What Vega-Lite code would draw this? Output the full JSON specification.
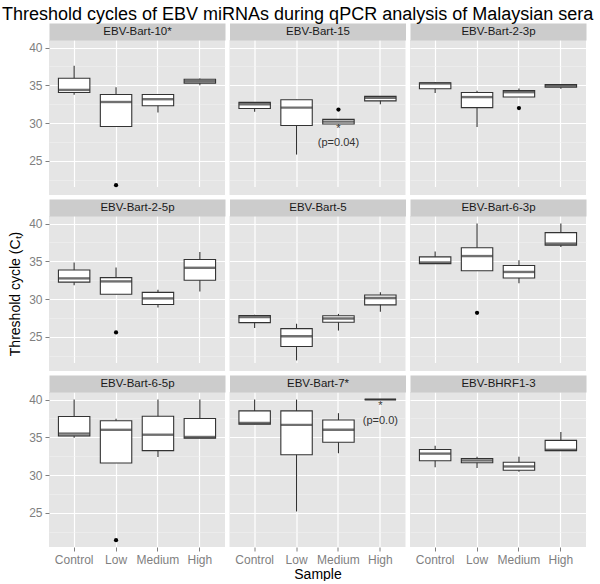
{
  "$schema": "https://vega.github.io/schema/vega-lite/v6.json",
  "background": "#ffffff",
  "padding": {"left": 2, "top": 5, "right": 2, "bottom": 0},
  "autosize": {"type": "pad"},
  "title": {"text": "Threshold cycles of EBV miRNAs during qPCR analysis of Malaysian sera", "fontSize": 18, "fontWeight": "normal", "color": "#000000", "font": "Liberation Sans", "anchor": "start", "frame": "group", "dx": -47, "offset": 2},
  "data": {"values": [
    {"mirna": "EBV-Bart-10*", "sample": "Control", "lower": 33.75, "q1": 34.05, "median": 34.4, "q3": 35.95, "upper": 37.6},
    {"mirna": "EBV-Bart-10*", "sample": "Low", "lower": 29.55, "q1": 29.55, "median": 32.8, "q3": 33.8, "upper": 34.76},
    {"mirna": "EBV-Bart-10*", "sample": "Medium", "lower": 31.4, "q1": 32.3, "median": 33.17, "q3": 33.8, "upper": 33.8},
    {"mirna": "EBV-Bart-10*", "sample": "High", "lower": 35.03, "q1": 35.3, "median": 35.55, "q3": 35.8, "upper": 35.9},
    {"mirna": "EBV-Bart-10*", "sample": "Low", "outlier": 21.8},
    {"mirna": "EBV-Bart-15", "sample": "Control", "lower": 31.5, "q1": 31.95, "median": 32.5, "q3": 32.75, "upper": 32.75},
    {"mirna": "EBV-Bart-15", "sample": "Low", "lower": 25.85, "q1": 29.7, "median": 32.05, "q3": 33.1, "upper": 33.1},
    {"mirna": "EBV-Bart-15", "sample": "Medium", "lower": 29.85, "q1": 29.9, "median": 30.2, "q3": 30.5, "upper": 30.5},
    {"mirna": "EBV-Bart-15", "sample": "High", "lower": 32.5, "q1": 32.95, "median": 33.35, "q3": 33.55, "upper": 33.55},
    {"mirna": "EBV-Bart-15", "sample": "Medium", "outlier": 31.8},
    {"mirna": "EBV-Bart-15", "sample": "Medium", "note": "*", "noteY": 29.2},
    {"mirna": "EBV-Bart-15", "sample": "Medium", "note": "(p=0.04)", "noteY": 27.35},
    {"mirna": "EBV-Bart-2-3p", "sample": "Control", "lower": 34.0, "q1": 34.55, "median": 35.25, "q3": 35.35, "upper": 35.45},
    {"mirna": "EBV-Bart-2-3p", "sample": "Low", "lower": 29.5, "q1": 32.05, "median": 33.45, "q3": 34.05, "upper": 34.3},
    {"mirna": "EBV-Bart-2-3p", "sample": "Medium", "lower": 33.45, "q1": 33.47, "median": 34.1, "q3": 34.3, "upper": 34.6},
    {"mirna": "EBV-Bart-2-3p", "sample": "High", "lower": 34.55, "q1": 34.75, "median": 34.95, "q3": 35.1, "upper": 35.1},
    {"mirna": "EBV-Bart-2-3p", "sample": "Medium", "outlier": 32.0},
    {"mirna": "EBV-Bart-2-5p", "sample": "Control", "lower": 31.85, "q1": 32.25, "median": 32.75, "q3": 33.85, "upper": 34.85},
    {"mirna": "EBV-Bart-2-5p", "sample": "Low", "lower": 30.65, "q1": 30.65, "median": 32.35, "q3": 32.85, "upper": 34.2},
    {"mirna": "EBV-Bart-2-5p", "sample": "Medium", "lower": 28.9, "q1": 29.3, "median": 30.1, "q3": 30.9, "upper": 31.25},
    {"mirna": "EBV-Bart-2-5p", "sample": "High", "lower": 31.0, "q1": 32.5, "median": 34.15, "q3": 35.25, "upper": 36.25},
    {"mirna": "EBV-Bart-2-5p", "sample": "Low", "outlier": 25.6},
    {"mirna": "EBV-Bart-5", "sample": "Control", "lower": 26.2, "q1": 26.9, "median": 27.65, "q3": 27.85, "upper": 27.95},
    {"mirna": "EBV-Bart-5", "sample": "Low", "lower": 21.9, "q1": 23.75, "median": 25.1, "q3": 26.1, "upper": 26.75},
    {"mirna": "EBV-Bart-5", "sample": "Medium", "lower": 25.85, "q1": 26.95, "median": 27.45, "q3": 27.8, "upper": 28.05},
    {"mirna": "EBV-Bart-5", "sample": "High", "lower": 28.35, "q1": 29.25, "median": 30.15, "q3": 30.55, "upper": 30.9},
    {"mirna": "EBV-Bart-6-3p", "sample": "Control", "lower": 34.7, "q1": 34.7, "median": 34.85, "q3": 35.6, "upper": 36.3},
    {"mirna": "EBV-Bart-6-3p", "sample": "Low", "lower": 33.75, "q1": 33.75, "median": 35.7, "q3": 36.8, "upper": 40.0},
    {"mirna": "EBV-Bart-6-3p", "sample": "Medium", "lower": 32.1, "q1": 32.8, "median": 33.6, "q3": 34.45, "upper": 35.15},
    {"mirna": "EBV-Bart-6-3p", "sample": "High", "lower": 36.9, "q1": 37.15, "median": 37.35, "q3": 38.8, "upper": 40.0},
    {"mirna": "EBV-Bart-6-3p", "sample": "Low", "outlier": 28.2},
    {"mirna": "EBV-Bart-6-5p", "sample": "Control", "lower": 34.95, "q1": 35.2, "median": 35.5, "q3": 37.75, "upper": 40.0},
    {"mirna": "EBV-Bart-6-5p", "sample": "Low", "lower": 31.6, "q1": 31.6, "median": 36.0, "q3": 37.2, "upper": 37.45},
    {"mirna": "EBV-Bart-6-5p", "sample": "Medium", "lower": 32.4, "q1": 33.25, "median": 35.35, "q3": 37.8, "upper": 40.0},
    {"mirna": "EBV-Bart-6-5p", "sample": "High", "lower": 34.9, "q1": 34.9, "median": 35.05, "q3": 37.5, "upper": 40.0},
    {"mirna": "EBV-Bart-6-5p", "sample": "Low", "outlier": 21.4},
    {"mirna": "EBV-Bart-7*", "sample": "Control", "lower": 36.75, "q1": 36.75, "median": 36.9, "q3": 38.5, "upper": 40.0},
    {"mirna": "EBV-Bart-7*", "sample": "Low", "lower": 25.2, "q1": 32.7, "median": 36.65, "q3": 38.5, "upper": 40.0},
    {"mirna": "EBV-Bart-7*", "sample": "Medium", "lower": 32.9, "q1": 34.35, "median": 36.0, "q3": 37.3, "upper": 38.2},
    {"mirna": "EBV-Bart-7*", "sample": "High", "lower": 40.0, "q1": 40.0, "median": 40.0, "q3": 40.0, "upper": 40.0},
    {"mirna": "EBV-Bart-7*", "sample": "High", "note": "*", "noteY": 39.1},
    {"mirna": "EBV-Bart-7*", "sample": "High", "note": "(p=0.0)", "noteY": 37.2},
    {"mirna": "EBV-BHRF1-3", "sample": "Control", "lower": 31.05, "q1": 31.9, "median": 32.85, "q3": 33.4, "upper": 33.9},
    {"mirna": "EBV-BHRF1-3", "sample": "Low", "lower": 30.95, "q1": 31.65, "median": 31.95, "q3": 32.2, "upper": 32.45},
    {"mirna": "EBV-BHRF1-3", "sample": "Medium", "lower": 30.45, "q1": 30.65, "median": 31.15, "q3": 31.7, "upper": 32.45},
    {"mirna": "EBV-BHRF1-3", "sample": "High", "lower": 33.25, "q1": 33.25, "median": 33.35, "q3": 34.6, "upper": 35.7}
  ]},
  "columns": 3,
  "spacing": {"row": 21, "column": 4.5},
  "bounds": "flush",
  "concat": [
    {"width": 176, "height": 155, "transform": [{"filter": {"field": "mirna", "equal": "EBV-Bart-10*"}}],
     "layer": [
      {"mark": {"type": "rule", "color": "#333333", "strokeWidth": 1.1},
       "encoding": {"x": {"field": "sample", "type": "nominal", "scale": {"type": "band", "domain": ["Control", "Low", "Medium", "High"], "paddingInner": 0, "paddingOuter": 0.1}, "axis": {"orient": "top", "grid": true, "title": "EBV-Bart-10*"}},
        "y": {"field": "lower", "type": "quantitative", "scale": {"domain": [20.5, 41], "nice": false, "zero": false}, "axis": {"values": [22.5, 25, 27.5, 30, 32.5, 35, 37.5, 40], "labelExpr": "datum.value % 5 === 0 ? datum.label : ''", "gridWidth": {"condition": {"test": "datum.value % 5 !== 0", "value": 0.5}, "value": 1.2}, "gridColor": {"condition": {"test": "datum.value % 5 !== 0", "value": "#f2f2f2"}, "value": "#ffffff"}, "tickOpacity": {"condition": {"test": "datum.value % 5 !== 0", "value": 0}, "value": 1}, "title": null}},
        "y2": {"field": "upper"}}},
      {"mark": {"type": "bar", "fill": "#ffffff", "stroke": "#333333", "strokeWidth": 1.1, "width": {"band": 0.75}},
       "encoding": {"x": {"field": "sample", "type": "nominal", "axis": null}, "y": {"field": "q1", "type": "quantitative", "axis": null}, "y2": {"field": "q3"}}},
      {"mark": {"type": "tick", "color": "#333333", "thickness": 2.4, "size": 31.4},
       "encoding": {"x": {"field": "sample", "type": "nominal", "axis": null}, "y": {"field": "median", "type": "quantitative", "axis": null}}},
      {"mark": {"type": "point", "filled": true, "color": "#000000", "size": 18, "opacity": 1},
       "encoding": {"x": {"field": "sample", "type": "nominal", "axis": null}, "y": {"field": "outlier", "type": "quantitative", "axis": null}}}
     ],
     "resolve": {"axis": {"x": "independent", "y": "independent"}}},
    {"width": 176, "height": 155, "transform": [{"filter": {"field": "mirna", "equal": "EBV-Bart-15"}}],
     "layer": [
      {"mark": {"type": "rule", "color": "#333333", "strokeWidth": 1.1},
       "encoding": {"x": {"field": "sample", "type": "nominal", "scale": {"type": "band", "domain": ["Control", "Low", "Medium", "High"], "paddingInner": 0, "paddingOuter": 0.1}, "axis": {"orient": "top", "grid": true, "title": "EBV-Bart-15"}},
        "y": {"field": "lower", "type": "quantitative", "scale": {"domain": [20.5, 41], "nice": false, "zero": false}, "axis": {"values": [22.5, 25, 27.5, 30, 32.5, 35, 37.5, 40], "labels": false, "ticks": false, "gridWidth": {"condition": {"test": "datum.value % 5 !== 0", "value": 0.5}, "value": 1.2}, "gridColor": {"condition": {"test": "datum.value % 5 !== 0", "value": "#f2f2f2"}, "value": "#ffffff"}, "title": null}},
        "y2": {"field": "upper"}}},
      {"mark": {"type": "bar", "fill": "#ffffff", "stroke": "#333333", "strokeWidth": 1.1, "width": {"band": 0.75}},
       "encoding": {"x": {"field": "sample", "type": "nominal", "axis": null}, "y": {"field": "q1", "type": "quantitative", "axis": null}, "y2": {"field": "q3"}}},
      {"mark": {"type": "tick", "color": "#333333", "thickness": 2.4, "size": 31.4},
       "encoding": {"x": {"field": "sample", "type": "nominal", "axis": null}, "y": {"field": "median", "type": "quantitative", "axis": null}}},
      {"mark": {"type": "point", "filled": true, "color": "#000000", "size": 18, "opacity": 1},
       "encoding": {"x": {"field": "sample", "type": "nominal", "axis": null}, "y": {"field": "outlier", "type": "quantitative", "axis": null}}},
      {"mark": {"type": "text", "fontSize": 11, "color": "#333333", "font": "Liberation Sans"},
       "encoding": {"x": {"field": "sample", "type": "nominal", "axis": null}, "y": {"field": "noteY", "type": "quantitative", "axis": null}, "text": {"field": "note"}}}
     ],
     "resolve": {"axis": {"x": "independent", "y": "independent"}}},
    {"width": 176, "height": 155, "transform": [{"filter": {"field": "mirna", "equal": "EBV-Bart-2-3p"}}],
     "layer": [
      {"mark": {"type": "rule", "color": "#333333", "strokeWidth": 1.1},
       "encoding": {"x": {"field": "sample", "type": "nominal", "scale": {"type": "band", "domain": ["Control", "Low", "Medium", "High"], "paddingInner": 0, "paddingOuter": 0.1}, "axis": {"orient": "top", "grid": true, "title": "EBV-Bart-2-3p"}},
        "y": {"field": "lower", "type": "quantitative", "scale": {"domain": [20.5, 41], "nice": false, "zero": false}, "axis": {"values": [22.5, 25, 27.5, 30, 32.5, 35, 37.5, 40], "labels": false, "ticks": false, "gridWidth": {"condition": {"test": "datum.value % 5 !== 0", "value": 0.5}, "value": 1.2}, "gridColor": {"condition": {"test": "datum.value % 5 !== 0", "value": "#f2f2f2"}, "value": "#ffffff"}, "title": null}},
        "y2": {"field": "upper"}}},
      {"mark": {"type": "bar", "fill": "#ffffff", "stroke": "#333333", "strokeWidth": 1.1, "width": {"band": 0.75}},
       "encoding": {"x": {"field": "sample", "type": "nominal", "axis": null}, "y": {"field": "q1", "type": "quantitative", "axis": null}, "y2": {"field": "q3"}}},
      {"mark": {"type": "tick", "color": "#333333", "thickness": 2.4, "size": 31.4},
       "encoding": {"x": {"field": "sample", "type": "nominal", "axis": null}, "y": {"field": "median", "type": "quantitative", "axis": null}}},
      {"mark": {"type": "point", "filled": true, "color": "#000000", "size": 18, "opacity": 1},
       "encoding": {"x": {"field": "sample", "type": "nominal", "axis": null}, "y": {"field": "outlier", "type": "quantitative", "axis": null}}}
     ],
     "resolve": {"axis": {"x": "independent", "y": "independent"}}},
    {"width": 176, "height": 155, "transform": [{"filter": {"field": "mirna", "equal": "EBV-Bart-2-5p"}}],
     "layer": [
      {"mark": {"type": "rule", "color": "#333333", "strokeWidth": 1.1},
       "encoding": {"x": {"field": "sample", "type": "nominal", "scale": {"type": "band", "domain": ["Control", "Low", "Medium", "High"], "paddingInner": 0, "paddingOuter": 0.1}, "axis": {"orient": "top", "grid": true, "title": "EBV-Bart-2-5p"}},
        "y": {"field": "lower", "type": "quantitative", "scale": {"domain": [20.5, 41], "nice": false, "zero": false}, "axis": {"values": [22.5, 25, 27.5, 30, 32.5, 35, 37.5, 40], "labelExpr": "datum.value % 5 === 0 ? datum.label : ''", "gridWidth": {"condition": {"test": "datum.value % 5 !== 0", "value": 0.5}, "value": 1.2}, "gridColor": {"condition": {"test": "datum.value % 5 !== 0", "value": "#f2f2f2"}, "value": "#ffffff"}, "tickOpacity": {"condition": {"test": "datum.value % 5 !== 0", "value": 0}, "value": 1}, "title": "Threshold cycle (Cₜ)"}},
        "y2": {"field": "upper"}}},
      {"mark": {"type": "bar", "fill": "#ffffff", "stroke": "#333333", "strokeWidth": 1.1, "width": {"band": 0.75}},
       "encoding": {"x": {"field": "sample", "type": "nominal", "axis": null}, "y": {"field": "q1", "type": "quantitative", "axis": null}, "y2": {"field": "q3"}}},
      {"mark": {"type": "tick", "color": "#333333", "thickness": 2.4, "size": 31.4},
       "encoding": {"x": {"field": "sample", "type": "nominal", "axis": null}, "y": {"field": "median", "type": "quantitative", "axis": null}}},
      {"mark": {"type": "point", "filled": true, "color": "#000000", "size": 18, "opacity": 1},
       "encoding": {"x": {"field": "sample", "type": "nominal", "axis": null}, "y": {"field": "outlier", "type": "quantitative", "axis": null}}}
     ],
     "resolve": {"axis": {"x": "independent", "y": "independent"}}},
    {"width": 176, "height": 155, "transform": [{"filter": {"field": "mirna", "equal": "EBV-Bart-5"}}],
     "layer": [
      {"mark": {"type": "rule", "color": "#333333", "strokeWidth": 1.1},
       "encoding": {"x": {"field": "sample", "type": "nominal", "scale": {"type": "band", "domain": ["Control", "Low", "Medium", "High"], "paddingInner": 0, "paddingOuter": 0.1}, "axis": {"orient": "top", "grid": true, "title": "EBV-Bart-5"}},
        "y": {"field": "lower", "type": "quantitative", "scale": {"domain": [20.5, 41], "nice": false, "zero": false}, "axis": {"values": [22.5, 25, 27.5, 30, 32.5, 35, 37.5, 40], "labels": false, "ticks": false, "gridWidth": {"condition": {"test": "datum.value % 5 !== 0", "value": 0.5}, "value": 1.2}, "gridColor": {"condition": {"test": "datum.value % 5 !== 0", "value": "#f2f2f2"}, "value": "#ffffff"}, "title": null}},
        "y2": {"field": "upper"}}},
      {"mark": {"type": "bar", "fill": "#ffffff", "stroke": "#333333", "strokeWidth": 1.1, "width": {"band": 0.75}},
       "encoding": {"x": {"field": "sample", "type": "nominal", "axis": null}, "y": {"field": "q1", "type": "quantitative", "axis": null}, "y2": {"field": "q3"}}},
      {"mark": {"type": "tick", "color": "#333333", "thickness": 2.4, "size": 31.4},
       "encoding": {"x": {"field": "sample", "type": "nominal", "axis": null}, "y": {"field": "median", "type": "quantitative", "axis": null}}}
     ],
     "resolve": {"axis": {"x": "independent", "y": "independent"}}},
    {"width": 176, "height": 155, "transform": [{"filter": {"field": "mirna", "equal": "EBV-Bart-6-3p"}}],
     "layer": [
      {"mark": {"type": "rule", "color": "#333333", "strokeWidth": 1.1},
       "encoding": {"x": {"field": "sample", "type": "nominal", "scale": {"type": "band", "domain": ["Control", "Low", "Medium", "High"], "paddingInner": 0, "paddingOuter": 0.1}, "axis": {"orient": "top", "grid": true, "title": "EBV-Bart-6-3p"}},
        "y": {"field": "lower", "type": "quantitative", "scale": {"domain": [20.5, 41], "nice": false, "zero": false}, "axis": {"values": [22.5, 25, 27.5, 30, 32.5, 35, 37.5, 40], "labels": false, "ticks": false, "gridWidth": {"condition": {"test": "datum.value % 5 !== 0", "value": 0.5}, "value": 1.2}, "gridColor": {"condition": {"test": "datum.value % 5 !== 0", "value": "#f2f2f2"}, "value": "#ffffff"}, "title": null}},
        "y2": {"field": "upper"}}},
      {"mark": {"type": "bar", "fill": "#ffffff", "stroke": "#333333", "strokeWidth": 1.1, "width": {"band": 0.75}},
       "encoding": {"x": {"field": "sample", "type": "nominal", "axis": null}, "y": {"field": "q1", "type": "quantitative", "axis": null}, "y2": {"field": "q3"}}},
      {"mark": {"type": "tick", "color": "#333333", "thickness": 2.4, "size": 31.4},
       "encoding": {"x": {"field": "sample", "type": "nominal", "axis": null}, "y": {"field": "median", "type": "quantitative", "axis": null}}},
      {"mark": {"type": "point", "filled": true, "color": "#000000", "size": 18, "opacity": 1},
       "encoding": {"x": {"field": "sample", "type": "nominal", "axis": null}, "y": {"field": "outlier", "type": "quantitative", "axis": null}}}
     ],
     "resolve": {"axis": {"x": "independent", "y": "independent"}}},
    {"width": 176, "height": 155, "transform": [{"filter": {"field": "mirna", "equal": "EBV-Bart-6-5p"}}],
     "layer": [
      {"mark": {"type": "rule", "color": "#333333", "strokeWidth": 1.1},
       "encoding": {"x": {"field": "sample", "type": "nominal", "scale": {"type": "band", "domain": ["Control", "Low", "Medium", "High"], "paddingInner": 0, "paddingOuter": 0.1}, "axis": {"orient": "bottom", "grid": true, "title": null}},
        "y": {"field": "lower", "type": "quantitative", "scale": {"domain": [20.5, 41], "nice": false, "zero": false}, "axis": {"values": [22.5, 25, 27.5, 30, 32.5, 35, 37.5, 40], "labelExpr": "datum.value % 5 === 0 ? datum.label : ''", "gridWidth": {"condition": {"test": "datum.value % 5 !== 0", "value": 0.5}, "value": 1.2}, "gridColor": {"condition": {"test": "datum.value % 5 !== 0", "value": "#f2f2f2"}, "value": "#ffffff"}, "tickOpacity": {"condition": {"test": "datum.value % 5 !== 0", "value": 0}, "value": 1}, "title": null}},
        "y2": {"field": "upper"}}},
      {"mark": {"type": "bar", "fill": "#ffffff", "stroke": "#333333", "strokeWidth": 1.1, "width": {"band": 0.75}},
       "encoding": {"x": {"field": "sample", "type": "nominal", "axis": {"orient": "top", "title": "EBV-Bart-6-5p"}}, "y": {"field": "q1", "type": "quantitative", "axis": null}, "y2": {"field": "q3"}}},
      {"mark": {"type": "tick", "color": "#333333", "thickness": 2.4, "size": 31.4},
       "encoding": {"x": {"field": "sample", "type": "nominal", "axis": null}, "y": {"field": "median", "type": "quantitative", "axis": null}}},
      {"mark": {"type": "point", "filled": true, "color": "#000000", "size": 18, "opacity": 1},
       "encoding": {"x": {"field": "sample", "type": "nominal", "axis": null}, "y": {"field": "outlier", "type": "quantitative", "axis": null}}}
     ],
     "resolve": {"axis": {"x": "independent", "y": "independent"}}},
    {"width": 176, "height": 155, "transform": [{"filter": {"field": "mirna", "equal": "EBV-Bart-7*"}}],
     "layer": [
      {"mark": {"type": "rule", "color": "#333333", "strokeWidth": 1.1},
       "encoding": {"x": {"field": "sample", "type": "nominal", "scale": {"type": "band", "domain": ["Control", "Low", "Medium", "High"], "paddingInner": 0, "paddingOuter": 0.1}, "axis": {"orient": "bottom", "grid": true, "title": "Sample", "titlePadding": 2}},
        "y": {"field": "lower", "type": "quantitative", "scale": {"domain": [20.5, 41], "nice": false, "zero": false}, "axis": {"values": [22.5, 25, 27.5, 30, 32.5, 35, 37.5, 40], "labels": false, "ticks": false, "gridWidth": {"condition": {"test": "datum.value % 5 !== 0", "value": 0.5}, "value": 1.2}, "gridColor": {"condition": {"test": "datum.value % 5 !== 0", "value": "#f2f2f2"}, "value": "#ffffff"}, "title": null}},
        "y2": {"field": "upper"}}},
      {"mark": {"type": "bar", "fill": "#ffffff", "stroke": "#333333", "strokeWidth": 1.1, "width": {"band": 0.75}},
       "encoding": {"x": {"field": "sample", "type": "nominal", "axis": {"orient": "top", "title": "EBV-Bart-7*"}}, "y": {"field": "q1", "type": "quantitative", "axis": null}, "y2": {"field": "q3"}}},
      {"mark": {"type": "tick", "color": "#333333", "thickness": 2.4, "size": 31.4},
       "encoding": {"x": {"field": "sample", "type": "nominal", "axis": null}, "y": {"field": "median", "type": "quantitative", "axis": null}}},
      {"mark": {"type": "text", "fontSize": 11, "color": "#333333", "font": "Liberation Sans"},
       "encoding": {"x": {"field": "sample", "type": "nominal", "axis": null}, "y": {"field": "noteY", "type": "quantitative", "axis": null}, "text": {"field": "note"}}}
     ],
     "resolve": {"axis": {"x": "independent", "y": "independent"}}},
    {"width": 176, "height": 155, "transform": [{"filter": {"field": "mirna", "equal": "EBV-BHRF1-3"}}],
     "layer": [
      {"mark": {"type": "rule", "color": "#333333", "strokeWidth": 1.1},
       "encoding": {"x": {"field": "sample", "type": "nominal", "scale": {"type": "band", "domain": ["Control", "Low", "Medium", "High"], "paddingInner": 0, "paddingOuter": 0.1}, "axis": {"orient": "bottom", "grid": true, "title": null}},
        "y": {"field": "lower", "type": "quantitative", "scale": {"domain": [20.5, 41], "nice": false, "zero": false}, "axis": {"values": [22.5, 25, 27.5, 30, 32.5, 35, 37.5, 40], "labels": false, "ticks": false, "gridWidth": {"condition": {"test": "datum.value % 5 !== 0", "value": 0.5}, "value": 1.2}, "gridColor": {"condition": {"test": "datum.value % 5 !== 0", "value": "#f2f2f2"}, "value": "#ffffff"}, "title": null}},
        "y2": {"field": "upper"}}},
      {"mark": {"type": "bar", "fill": "#ffffff", "stroke": "#333333", "strokeWidth": 1.1, "width": {"band": 0.75}},
       "encoding": {"x": {"field": "sample", "type": "nominal", "axis": {"orient": "top", "title": "EBV-BHRF1-3"}}, "y": {"field": "q1", "type": "quantitative", "axis": null}, "y2": {"field": "q3"}}},
      {"mark": {"type": "tick", "color": "#333333", "thickness": 2.4, "size": 31.4},
       "encoding": {"x": {"field": "sample", "type": "nominal", "axis": null}, "y": {"field": "median", "type": "quantitative", "axis": null}}}
     ],
     "resolve": {"axis": {"x": "independent", "y": "independent"}}}
  ],
  "config": {
    "font": "Liberation Sans",
    "view": {"fill": "#e5e5e5", "stroke": null},
    "axis": {"domain": false, "labelColor": "#7f7f7f", "labelFontSize": 12, "labelFont": "Liberation Sans", "tickColor": "#7f7f7f", "tickSize": 4, "tickWidth": 1, "gridColor": "#ffffff", "gridWidth": 1.2, "titleFontWeight": "normal", "titleFontSize": 14, "titleColor": "#000000", "titleFont": "Liberation Sans", "labelPadding": 3, "titlePadding": 6},
    "axisX": {"labelAngle": 0},
    "axisTop": {"domain": true, "domainColor": "#cccccc", "domainWidth": 17, "offset": 8.5, "labels": false, "ticks": false, "grid": false, "titleFontSize": 11.5, "titleColor": "#1a1a1a", "titleY": 0, "titleBaseline": "middle", "titleFontWeight": "normal", "titlePadding": 0}
  }
}
